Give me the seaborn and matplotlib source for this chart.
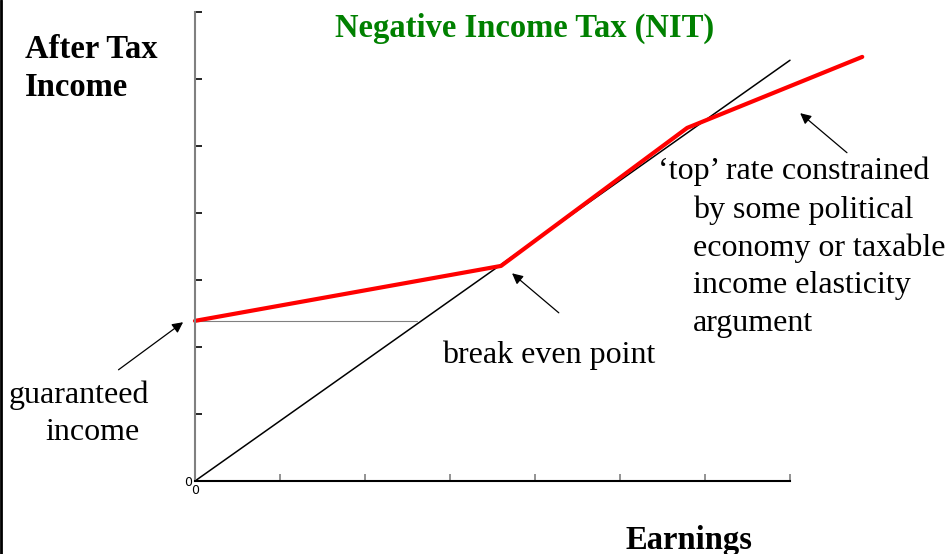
import matplotlib
matplotlib.use("Agg")
import matplotlib.pyplot as plt
import matplotlib.ticker as mtick
import pandas as pd
import seaborn as sns

# after-tax schedule under the NIT (kinks)
earnings = [0.0, 3.6, 5.79, 7.85]
after_tax = [2.39, 3.21, 5.27, 6.33]

# 45 degree line: no tax
diag_x = [0.0, 7.0]
diag_y = [0.0, 6.28]

# guaranteed income guide
guar_x = [0.0, 2.61]
guar_y = [2.39, 2.39]

x_ticks = [0, 1, 2, 3, 4, 5, 6, 7]
y_ticks = [0, 1, 2, 3, 4, 5, 6, 7]
tick_labels = ["0", "", "", "", "", "", "", ""]

sns.set_style("white")
plt.rcParams['font.family'] = ['Liberation Serif', 'DejaVu Serif']
plt.rcParams['text.color'] = 'black'
plt.rcParams['xtick.labelcolor'] = 'black'
plt.rcParams['ytick.labelcolor'] = 'black'

fig = plt.figure(figsize=(9.49, 5.54), dpi=100)
ax = fig.add_axes([195 / 949, 1 - 481 / 554, 595 / 949, 469 / 554])

sched = pd.DataFrame({"earnings": earnings, "after_tax": after_tax})
diag = pd.DataFrame({"x": diag_x, "y": diag_y})
guar = pd.DataFrame({"x": guar_x, "y": guar_y})

sns.lineplot(data=guar, x="x", y="y", ax=ax, color="#808080", lw=0.8)
sns.lineplot(data=diag, x="x", y="y", ax=ax, color="black", lw=1.1)
sns.lineplot(data=sched, x="earnings", y="after_tax", ax=ax, color="#ff0000", lw=3)
for ln in ax.lines:
    ln.set_clip_on(False)

ax.set_xlim(0, 7)
ax.set_ylim(0, 7)
ax.set_xlabel("")
ax.set_ylabel("")
ax.xaxis.set_major_locator(mtick.FixedLocator(x_ticks))
ax.yaxis.set_major_locator(mtick.FixedLocator(y_ticks))
ax.set_xticklabels(tick_labels, family="DejaVu Sans", fontsize=9)
ax.set_yticklabels(tick_labels, family="DejaVu Sans", fontsize=9)
ax.tick_params(axis="x", direction="in", length=5, width=1.2, color="#808080", pad=2, bottom=True)
ax.tick_params(axis="y", direction="in", length=5, width=1.2, color="black", pad=2, left=True)

for s in ["top", "right"]:
    ax.spines[s].set_visible(False)
ax.spines["left"].set_color("#808080")
ax.spines["left"].set_linewidth(1.5)
ax.spines["bottom"].set_color("black")
ax.spines["bottom"].set_linewidth(1.5)

# frame line on the left edge of the picture
fig.add_artist(plt.Line2D([0.001, 0.001], [0, 1], color="black", lw=2))

def fx(px):
    return px / 949

def fy(py):
    return 1 - py / 554

fig.text(fx(525), fy(28), "Negative Income Tax (NIT)", color="#008000",
         fontsize=23.5, fontweight="bold", ha="center", va="center")
fig.text(fx(25), fy(50), "After Tax", fontsize=23.5, fontweight="bold", ha="left", va="center")
fig.text(fx(25), fy(88), "Income", fontsize=23.5, fontweight="bold", ha="left", va="center")
fig.text(fx(625), fy(540), "Earnings", fontsize=23.5, fontweight="bold", ha="left", va="center")

fs = 23
fig.text(fx(9), fy(395), "guaranteed", fontsize=fs, ha="left", va="center")
fig.text(fx(45), fy(433), "income", fontsize=fs, ha="left", va="center")
fig.text(fx(442), fy(355), "break even point", fontsize=fs, ha="left", va="center")
fig.text(fx(658), fy(171), "\u2018top\u2019 rate constrained", fontsize=fs, ha="left", va="center")
fig.text(fx(693), fy(210), "by some political", fontsize=fs, ha="left", va="center")
fig.text(fx(693), fy(248), "economy or taxable", fontsize=fs, ha="left", va="center")
fig.text(fx(693), fy(286), "income elasticity", fontsize=fs, ha="left", va="center")
fig.text(fx(693), fy(323), "argument", fontsize=fs, ha="left", va="center")

arrow = dict(arrowstyle="-|>", color="black", lw=0.9, mutation_scale=16, shrinkA=0, shrinkB=0)
ax.annotate("", xy=(-0.14, 2.37), xytext=(-0.9, 1.66), arrowprops=arrow, annotation_clip=False)
ax.annotate("", xy=(3.73, 3.10), xytext=(4.28, 2.51), arrowprops=arrow, annotation_clip=False)
ax.annotate("", xy=(7.12, 5.49), xytext=(7.67, 4.90), arrowprops=arrow, annotation_clip=False)

fig.savefig("out.png", dpi=100)
